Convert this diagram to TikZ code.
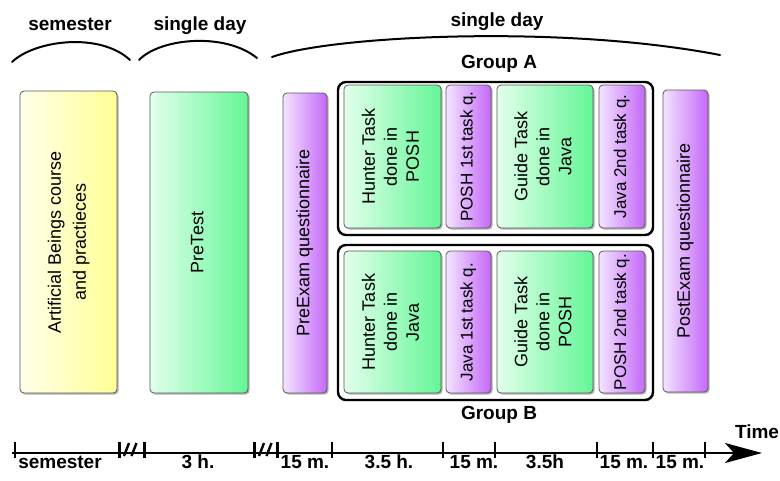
\documentclass[tikz,border=0pt]{standalone}
\usepackage{fontspec}
\setmainfont{Liberation Sans}
\usetikzlibrary{shadows,arrows.meta}

\definecolor{yelL}{RGB}{255,255,234}
\definecolor{yelR}{RGB}{255,255,150}
\definecolor{grnL}{RGB}{226,255,236}
\definecolor{grnR}{RGB}{100,246,150}
\definecolor{purL}{RGB}{243,228,255}
\definecolor{purR}{RGB}{196,104,248}

\newcommand{\vtext}[1]{\rotatebox{90}{\begin{tabular}{@{}c@{}}#1\end{tabular}}}

\tikzset{
  box/.style={draw=black!65, line width=0.8pt, rounded corners=4pt, inner sep=0pt,
    drop shadow={shadow xshift=1.6pt, shadow yshift=-1.6pt, fill=black!55, opacity=0.55},
    font=\fontsize{18}{22}\selectfont, align=center},
  smallbox/.style={box, font=\fontsize{17}{20}\selectfont},
  yel/.style={left color=yelL, right color=yelR},
  grn/.style={left color=grnL, right color=grnR},
  pur/.style={left color=purL, right color=purR},
  group/.style={draw=black, fill=white, line width=2.4pt, rounded corners=8pt, inner sep=0pt,
    drop shadow={shadow xshift=1.2pt, shadow yshift=-1.2pt, fill=black!40, opacity=0.5}},
  lbl/.style={font=\bfseries\fontsize{19}{21}\selectfont, anchor=base, inner sep=0pt},
  brace/.style={line width=2pt, line cap=round},
  axis/.style={line width=2pt, -{Stealth[length=37pt, width=20pt, inset=9pt]}},
  tick/.style={line width=2pt},
  btick/.style={line width=3pt},
}

\begin{document}
\begin{tikzpicture}[x=1pt, y=-1pt]
\useasboundingbox (0,0) rectangle (780,480);

% top labels and braces
\node[lbl] (lsem) at (70,30) {semester};
\node[lbl] (lday1) at (200,30) {single day};
\node[lbl] (lday2) at (497,26) {single day};
\draw[brace] (12,62) .. controls (35,40) and (100,32) .. (130,60);
\draw[brace] (139,60) .. controls (160,38) and (225,32) .. (257,58);
\draw[brace] (272,57) .. controls (330,36) and (560,24) .. (720,55);

% group boxes
\node[group, minimum width=315pt, minimum height=153pt] (grpA) at (495.5,158.5) {};
\node[group, minimum width=315pt, minimum height=155pt] (grpB) at (495.5,322.5) {};
\node[lbl] (lgA) at (499,68) {Group A};
\node[lbl] (lgB) at (499,419) {Group B};

% long boxes
\node[box, yel, minimum width=97pt, minimum height=302pt] (ab) at (68.5,242)
  {\fontsize{18}{25}\selectfont\vtext{Artificial Beings course\\and practieces}};
\node[box, grn, minimum width=98pt, minimum height=301pt] (pre) at (199,242.5) {\vtext{PreTest}};
\node[box, pur, minimum width=44pt, minimum height=300pt] (preq) at (305,243) {\vtext{PreExam questionnaire}};
\node[box, pur, minimum width=45pt, minimum height=302pt] (postq) at (685.5,241) {\vtext{PostExam questionnaire}};

% group A
\node[box, grn, minimum width=97pt, minimum height=143pt] (hA) at (392.5,156.5) {\vtext{Hunter Task\\done in\\POSH}};
\node[smallbox, pur, minimum width=45pt, minimum height=143pt] (qA1) at (468.5,156.5) {\vtext{POSH 1st task q.}};
\node[box, grn, minimum width=96pt, minimum height=143pt] (gA) at (545,156.5) {\vtext{Guide Task\\done in\\Java}};
\node[smallbox, pur, minimum width=46pt, minimum height=143pt] (qA2) at (622,156.5) {\vtext{Java 2nd task q.}};

% group B
\node[box, grn, minimum width=97pt, minimum height=142pt] (hB) at (392.5,322) {\vtext{Hunter Task\\done in\\Java}};
\node[smallbox, pur, minimum width=45pt, minimum height=142pt] (qB1) at (468.5,322) {\vtext{Java 1st task q.}};
\node[box, grn, minimum width=96pt, minimum height=142pt] (gB) at (545,322) {\vtext{Guide Task\\done in\\POSH}};
\node[smallbox, pur, minimum width=46pt, minimum height=142pt] (qB2) at (622,322) {\vtext{POSH 2nd task q.}};

% time axis
\coordinate (t0) at (12,453);
\coordinate (t1) at (762,453);
\draw[axis] (t0) -- (t1);
\foreach \x in {15,332,443,495,597,653,705} \draw[tick] (\x,442) -- (\x,458);
\foreach \x in {119,144,254,277} \draw[btick] (\x,442) -- (\x,458);
\draw[line width=2.4pt] (124,456) -- (129,443) (131.5,456) -- (136.5,443);
\draw[line width=2.4pt] (259,456) -- (264,443) (266.5,456) -- (271.5,443);

\node[lbl] (d1) at (60,468) {semester};
\node[lbl] (d2) at (198,468) {3 h.};
\node[lbl] (d3) at (305,468) {15 m.};
\node[lbl] (d4) at (389,468) {3.5 h.};
\node[lbl] (d5) at (474,468) {15 m.};
\node[lbl] (d6) at (545,468) {3.5h};
\node[lbl] (d7) at (624,468) {15 m.};
\node[lbl] (d8) at (680,468) {15 m.};
\node[lbl] (dtime) at (757,438) {Time};
\end{tikzpicture}
\end{document}
